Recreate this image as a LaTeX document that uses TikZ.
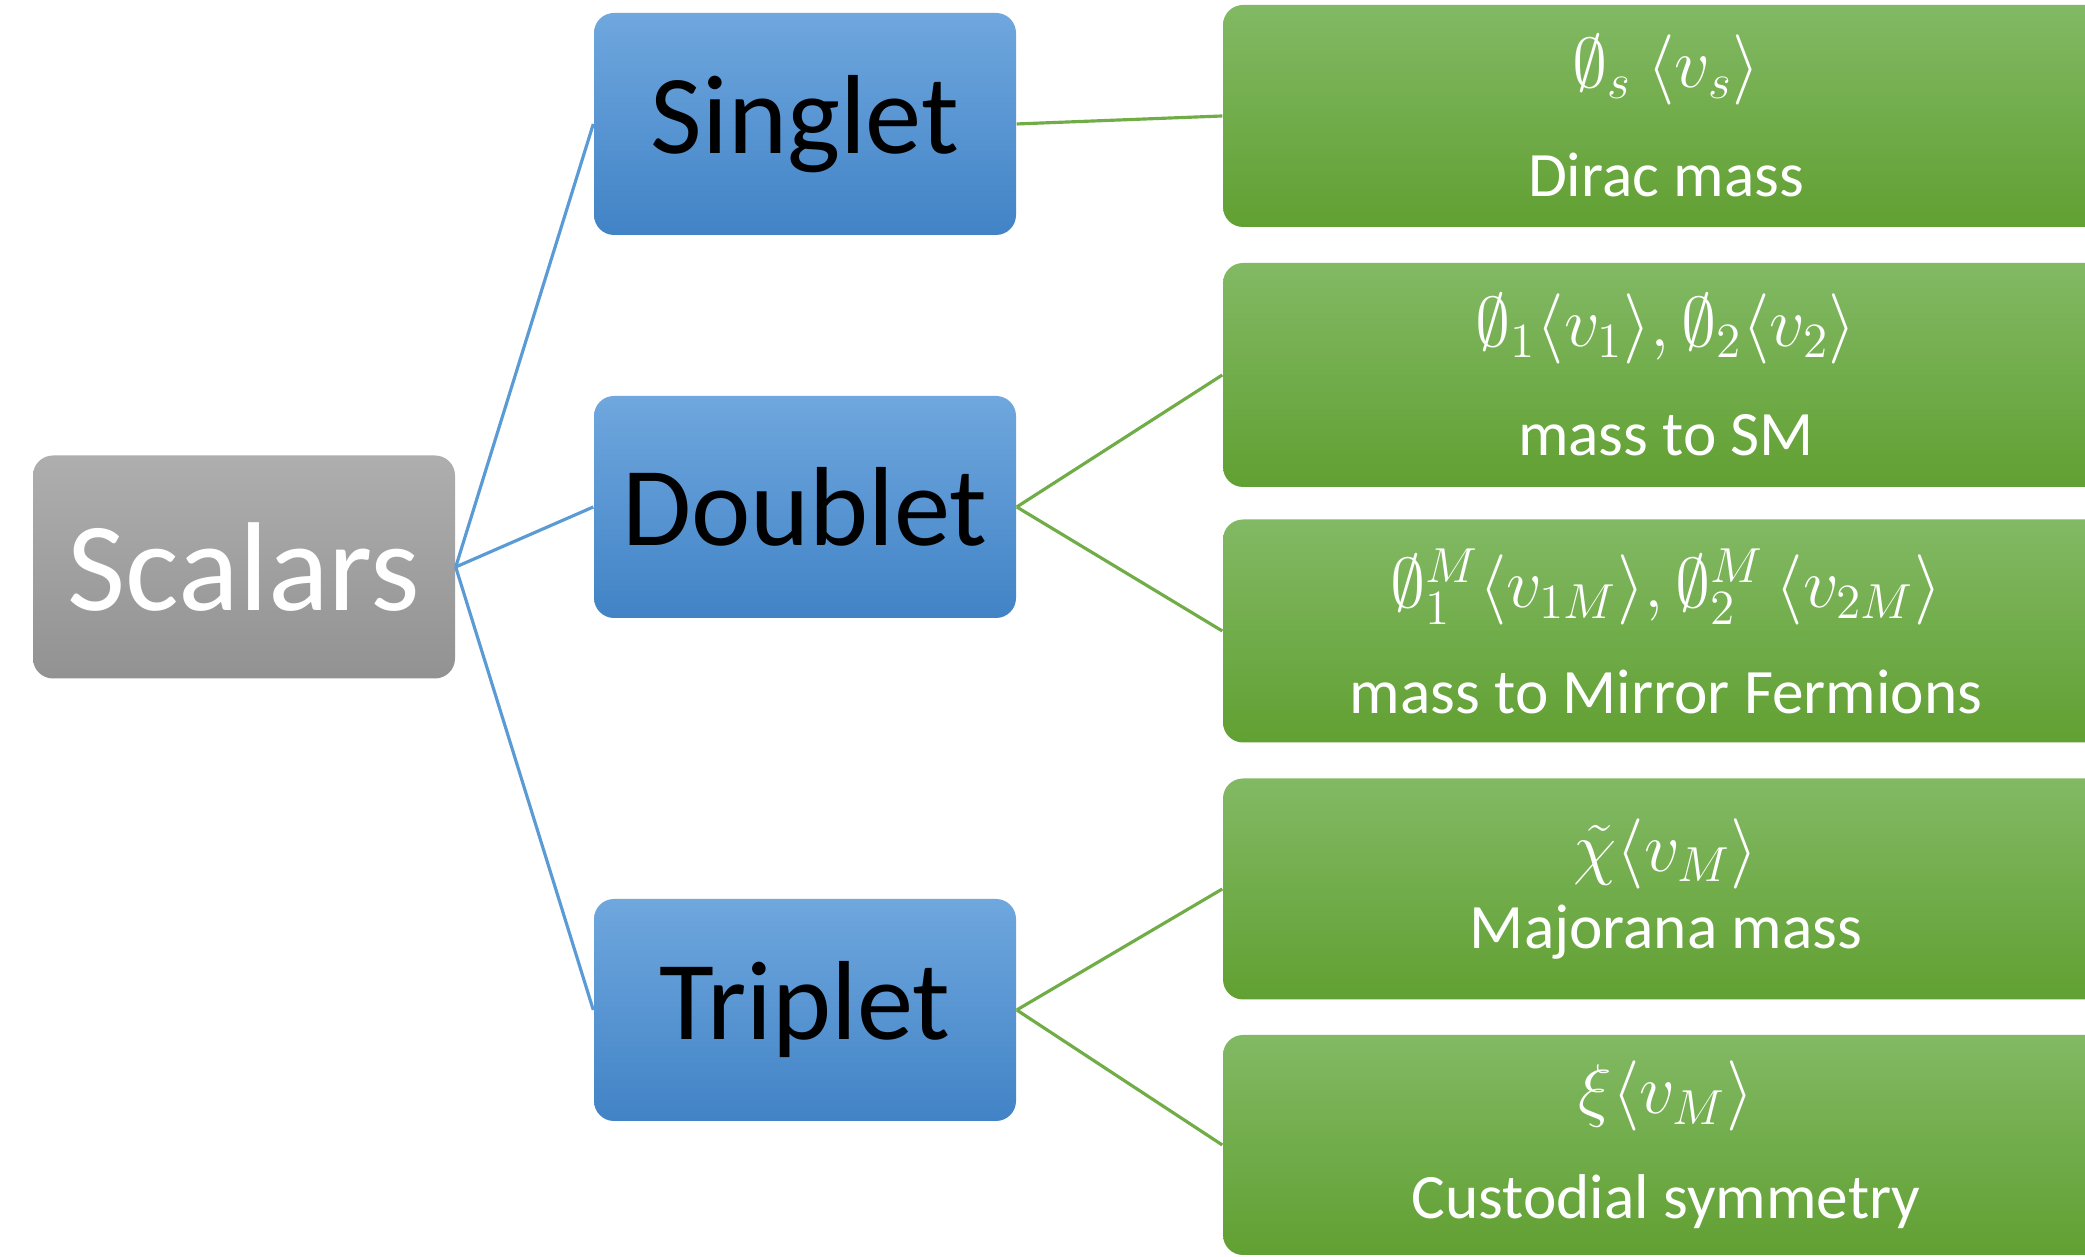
\documentclass[tikz,border=0pt]{standalone}
\usepackage{fix-cm}
\usepackage{fontspec}
\setmainfont{Carlito}
\definecolor{grayTop}{RGB}{174,174,174}
\definecolor{grayBot}{RGB}{146,146,146}
\definecolor{blueTop}{RGB}{111,167,222}
\definecolor{blueBot}{RGB}{65,131,198}
\definecolor{greenTop}{RGB}{130,185,100}
\definecolor{greenBot}{RGB}{97,160,50}
\definecolor{lineBlue}{RGB}{91,155,213}
\definecolor{lineGreen}{RGB}{112,173,71}
\newcommand{\mathline}[1]{{\fontsize{20}{30}\selectfont$#1$}}
\begin{document}
\begin{tikzpicture}[
	scalarbox/.style={rounded corners=0.2cm, top color=grayTop, bottom color=grayBot, minimum width=4.22cm, minimum height=2.23cm, inner sep=0pt, text=white, font=\fontsize{36}{40}\selectfont},
	repbox/.style={rounded corners=0.2cm, top color=blueTop, bottom color=blueBot, minimum width=4.22cm, minimum height=2.22cm, inner sep=0pt, text=black, font=\fontsize{32}{36}\selectfont},
	massbox/.style={rounded corners=0.2cm, top color=greenTop, bottom color=greenBot, minimum width=8.86cm, minimum height=2.22cm, inner sep=0pt, text=white, align=center, font=\fontsize{18}{30}\selectfont},
	blueline/.style={draw=lineBlue, line width=0.9pt},
	greenline/.style={draw=lineGreen, line width=0.9pt}]
	\clip (0.00,0.00) rectangle (20.85,12.57);
	\fill[white] (0.00,0.00) rectangle (20.85,12.57);
	% root
	\node[scalarbox] (scalars) at (2.44,6.90) {Scalars};
	% representations
	\node[repbox] (singlet) at (8.05,11.33) {Singlet};
	\node[repbox] (doublet) at (8.05,7.50) {Doublet};
	\node[repbox] (triplet) at (8.05,2.47) {Triplet};
	% vevs and roles
	\node[massbox] (vevS) at (16.66,11.41) {\mathline{\emptyset_s\ \langle v_s\rangle}\\[1pt] Dirac mass};
	\node[massbox, minimum height=2.24cm] (vevSM) at (16.66,8.82) {\mathline{\emptyset_1\langle v_1\rangle, \emptyset_2\langle v_2\rangle}\\[1pt] mass to SM};
	\node[massbox, minimum height=2.23cm] (vevMF) at (16.66,6.26) {\mathline{\emptyset_1^M\langle v_{1M}\rangle, \emptyset_2^M\,\langle v_{2M}\rangle}\\ mass to Mirror Fermions};
	\node[massbox, minimum height=2.21cm] (vevMaj) at (16.66,3.68) {\mathline{\tilde{\chi}\langle v_M\rangle}\\[-8pt] Majorana mass};
	\node[massbox, minimum height=2.20cm] (vevCust) at (16.66,1.12) {\mathline{\xi\langle v_M\rangle}\\ Custodial symmetry};
	% connectors
	\draw[blueline] (scalars.east) -- (singlet.west);
	\draw[blueline] (scalars.east) -- (doublet.west);
	\draw[blueline] (scalars.east) -- (triplet.west);
	\draw[greenline] (singlet.east) -- (vevS.west);
	\draw[greenline] (doublet.east) -- (vevSM.west);
	\draw[greenline] (doublet.east) -- (vevMF.west);
	\draw[greenline] (triplet.east) -- (vevMaj.west);
	\draw[greenline] (triplet.east) -- (vevCust.west);
\end{tikzpicture}
\end{document}
